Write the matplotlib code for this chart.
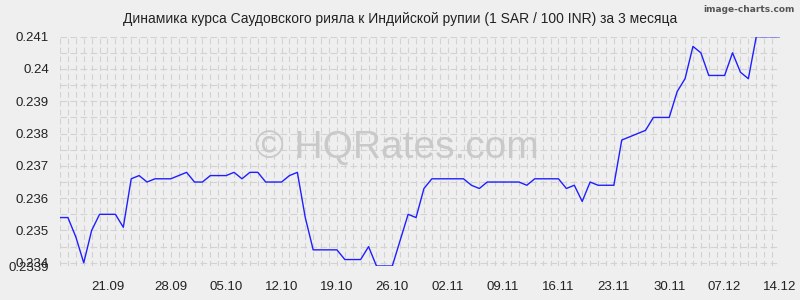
import numpy as np
import matplotlib
matplotlib.use('Agg')
import matplotlib.pyplot as plt

# курс SAR/INR (за 1 SAR / 100 INR), по дням 14.09 - 14.12
rate = [0.2354, 0.2354, 0.2348, 0.2340, 0.2350, 0.2355, 0.2355, 0.2355, 0.2351, 0.2366,
        0.2367, 0.2365, 0.2366, 0.2366, 0.2366, 0.2367, 0.2368, 0.2365, 0.2365, 0.2367,
        0.2367, 0.2367, 0.2368, 0.2366, 0.2368, 0.2368, 0.2365, 0.2365, 0.2365, 0.2367,
        0.2368, 0.2354, 0.2344, 0.2344, 0.2344, 0.2344, 0.2341, 0.2341, 0.2341, 0.2345,
        0.2339, 0.2339, 0.2339, 0.2347, 0.2355, 0.2354, 0.2363, 0.2366, 0.2366, 0.2366,
        0.2366, 0.2366, 0.2364, 0.2363, 0.2365, 0.2365, 0.2365, 0.2365, 0.2365, 0.2364,
        0.2366, 0.2366, 0.2366, 0.2366, 0.2363, 0.2364, 0.2359, 0.2365, 0.2364, 0.2364,
        0.2364, 0.2378, 0.2379, 0.2380, 0.2381, 0.2385, 0.2385, 0.2385, 0.2393, 0.2397,
        0.2407, 0.2405, 0.2398, 0.2398, 0.2398, 0.2405, 0.2399, 0.2397, 0.2410, 0.2410,
        0.2410, 0.2410]

date_labels = ['21.09', '28.09', '05.10', '12.10', '19.10', '26.10', '02.11',
               '09.11', '16.11', '23.11', '30.11', '07.12', '14.12']
date_pos = [6, 14, 21, 28, 35, 42, 49, 56, 63, 70, 77, 84, 91]

y_ticks = [0.2339, 0.234, 0.235, 0.236, 0.237, 0.238, 0.239, 0.24, 0.241]
y_labels = ['0.2339', '0.234', '0.235', '0.236', '0.237', '0.238', '0.239', '0.24', '0.241']
y_min, y_max = 0.2339, 0.241

title = 'Динамика курса Саудовского рияла к Индийской рупии (1 SAR / 100 INR) за 3 месяца'

plt.rcParams['font.family'] = ['Liberation Sans', 'DejaVu Sans']
bg = '#efefef'

fig = plt.figure(figsize=(8, 3), dpi=100, facecolor=bg)
ax = fig.add_axes([60/800, 34/300, 720/800, 229.3/300], facecolor=bg)

x = np.arange(len(rate))
ax.set_xlim(0, len(rate) - 1)
ax.set_ylim(y_min, y_max)

# сетка: вертикальные линии на каждый день, горизонтальные через 0.0005
for xi in x:
    ax.axvline(xi, color='#d2d2d2', lw=0.8, dashes=(5, 3), zorder=0)
for yv in np.arange(0.234, 0.24101, 0.0005):
    ax.axhline(yv, color='#d2d2d2', lw=0.8, dashes=(6, 3), zorder=0)
ax.axhline(y_min, color='#d2d2d2', lw=0.8, dashes=(6, 3), zorder=0)

fig.text(397/800, 1 - 148/300, '© HQRates.com', ha='center', va='center',
         fontsize=28, color='#c9c9c9', zorder=1)

ax.plot(x, rate, color='#1f1fff', lw=1.0, zorder=3)

for s in ax.spines.values():
    s.set_visible(False)

ax.set_yticks(y_ticks)
ax.set_yticklabels(y_labels)
ax.set_xticks(date_pos)
ax.set_xticklabels(date_labels)
ax.tick_params(axis='y', length=0, pad=8, labelsize=9.5, labelcolor='#222222')
ax.tick_params(axis='x', length=0, pad=11, labelsize=9.5, labelcolor='#222222')

fig.text(0.5, 1 - 19/300, title, ha='center', va='center', fontsize=10, color='#222222')
fig.text(795/800, 1 - 10/300, 'image-charts.com', ha='right', va='center', fontsize=6.5,
         color='#555555', family=['Liberation Sans Narrow', 'DejaVu Sans'], weight='bold')

fig.savefig('out.png', dpi=100, facecolor=bg)
